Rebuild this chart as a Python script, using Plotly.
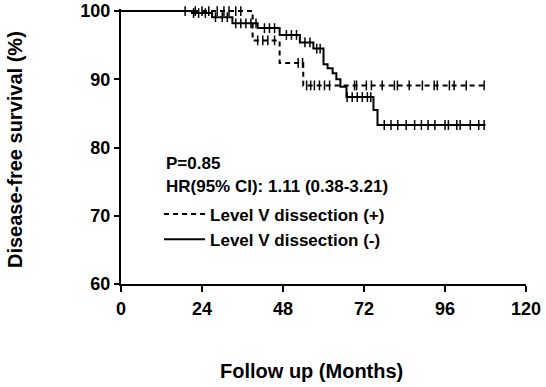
import plotly.graph_objects as go

# Kaplan-Meier step data (months, survival %)
neg_t = [0, 21, 27, 33, 40.5, 47, 53, 57, 60, 61.2, 62.7, 63.8, 65, 66.8, 74.8, 76, 108]
neg_s = [100, 99.7, 99.1, 98.2, 97.5, 96.5, 95.4, 94.5, 92.2, 91.6, 90.9, 90.0, 88.9, 87.4, 85.5, 83.3, 83.3]
pos_t = [0, 39, 47, 54, 108]
pos_s = [100, 95.7, 92.4, 89.1, 89.1]

# censoring times
neg_c = [19, 21.5, 23, 25, 28, 30, 31.5, 34, 35.5, 37, 38.5, 40, 42.5, 44, 45.5, 49, 50.5, 52,
         54.5, 56, 58, 59, 67, 68.5, 70, 71.5, 73, 74, 78, 80, 82, 84.5, 87, 89, 91, 93, 96, 97,
         99.5, 100.5, 103.5, 106, 107.6]
pos_c = [22, 24, 26, 28.5, 30.5, 32, 34, 35.5, 40.5, 42, 43.5, 45.5, 52.5, 53.8, 55, 56.2, 57.3,
         58.8, 60.3, 61.8, 69.2, 69.8, 72.7, 74.2, 77.4, 81, 81.9, 85.4, 89.3, 92.8, 93.7, 97.3,
         98.7, 102.3, 107.6]

x_ticks = [0, 24, 48, 72, 96, 120]
y_ticks = [60, 70, 80, 90, 100]

labels = ["Level V dissection (+)", "Level V dissection (-)"]


def surv_at(ts, ss, t):
    v = ss[0]
    for ti, si in zip(ts, ss):
        if ti <= t:
            v = si
    return v


FONT = "Liberation Sans, Arial, sans-serif"
fig = go.Figure()

fig.add_trace(go.Scatter(x=pos_t, y=pos_s, mode="lines", line_shape="hv",
                         line=dict(color="black", width=2, dash="5px,4px"),
                         name="<b>" + labels[0] + "</b>"))
fig.add_trace(go.Scatter(x=neg_t, y=neg_s, mode="lines", line_shape="hv",
                         line=dict(color="black", width=2),
                         name="<b>" + labels[1] + "</b>"))
fig.add_trace(go.Scatter(x=pos_c, y=[surv_at(pos_t, pos_s, t) for t in pos_c], mode="markers",
                         marker=dict(symbol="line-ns", size=7, line=dict(color="black", width=1.5)),
                         showlegend=False, cliponaxis=False, hoverinfo="skip"))
fig.add_trace(go.Scatter(x=neg_c, y=[surv_at(neg_t, neg_s, t) for t in neg_c], mode="markers",
                         marker=dict(symbol="line-ns", size=7, line=dict(color="black", width=1.5)),
                         showlegend=False, cliponaxis=False, hoverinfo="skip"))

fig.update_layout(
    width=546, height=387,
    margin=dict(l=121, r=20, t=9, b=103, autoexpand=False),
    paper_bgcolor="white", plot_bgcolor="white",
    font=dict(family=FONT, color="black"),
    showlegend=True,
    legend=dict(x=0.094, y=0.318, xanchor="left", yanchor="top", bgcolor="rgba(0,0,0,0)",
                font=dict(size=17, family=FONT, color="black"), itemwidth=41,
                tracegroupgap=0),
    xaxis=dict(range=[0, 120], tickvals=x_ticks, ticktext=[str(v) for v in x_ticks],
               showline=True, linecolor="black", linewidth=2, ticks="outside",
               ticklen=6, tickwidth=2, tickcolor="black", showgrid=False, zeroline=False,
               automargin=False,
               tickfont=dict(size=18, family=FONT, weight="bold"), ticklabelstandoff=1),
    yaxis=dict(range=[60, 100.3], tickvals=y_ticks, ticktext=[str(v) for v in y_ticks],
               showline=True, linecolor="black", linewidth=2, ticks="outside",
               ticklen=5, tickwidth=2, tickcolor="black", showgrid=False, zeroline=False,
               automargin=False,
               tickfont=dict(size=18, family=FONT, weight="bold")),
    annotations=[
        dict(text="<b>P=0.85</b>", xref="paper", yref="paper", x=(164 - 121) / 405, y=1 - (163.5 - 9) / 275,
             xanchor="left", yanchor="middle", showarrow=False, font=dict(size=17, family=FONT)),
        dict(text="<b>HR(95% CI): 1.11 (0.38-3.21)</b>", xref="paper", yref="paper",
             x=(164 - 121) / 405, y=1 - (186 - 9) / 275,
             xanchor="left", yanchor="middle", showarrow=False, font=dict(size=17, family=FONT)),
        dict(text="<b>Follow up (Months)</b>", xref="paper", yref="paper", x=(311 - 121) / 405,
             y=1 - (371 - 9) / 275, xanchor="center", yanchor="middle", showarrow=False,
             font=dict(size=20, family=FONT)),
        dict(text="<b>Disease-free survival (%)</b>", xref="paper", yref="paper",
             x=(15 - 121) / 405, y=1 - (150 - 9) / 275, xanchor="center", yanchor="middle",
             textangle=-90, showarrow=False, font=dict(size=20, family=FONT)),
    ],
)

fig.write_html("out.html", config={"displayModeBar": False},
               post_script="document.body.style.margin='0';document.body.style.padding='0';")
